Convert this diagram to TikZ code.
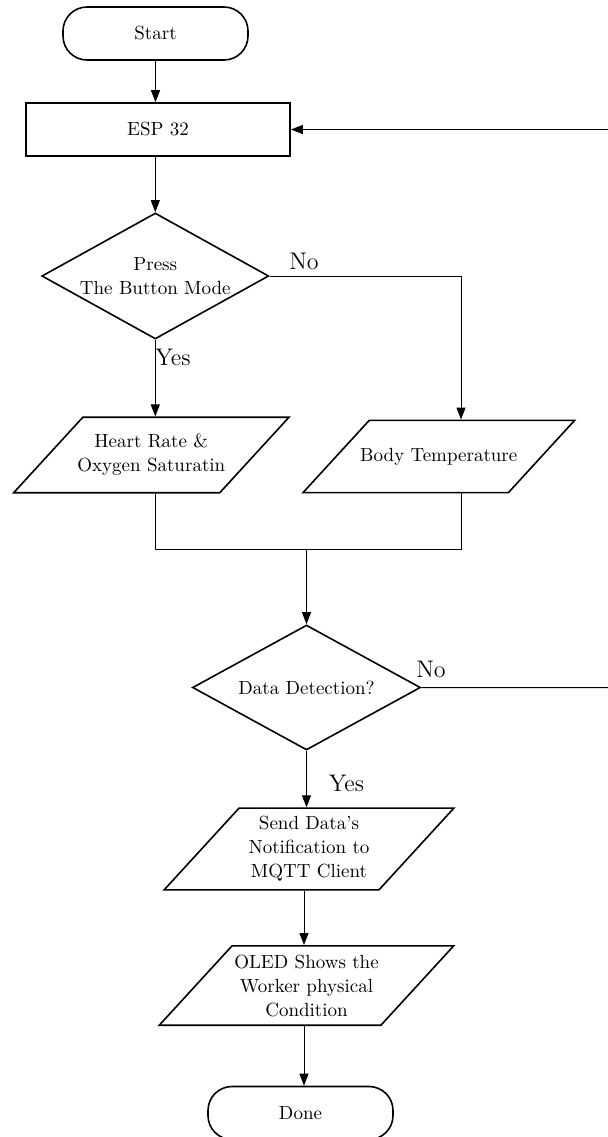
\documentclass[tikz,border=0pt]{standalone}
\usepackage{tikz}
\usetikzlibrary{shapes.geometric,arrows.meta}

\begin{document}
\begin{tikzpicture}[x=0.5pt,y=-0.5pt,
  every node/.style={font=\fontsize{9.5}{12}\selectfont},
  term/.style={draw,line width=0.8pt,rounded corners=12pt,minimum width=92.5pt,minimum height=26.5pt,inner sep=0pt},
  proc/.style={draw,line width=0.8pt,minimum width=132pt,minimum height=26.5pt,inner sep=0pt},
  decision/.style={draw,diamond,line width=0.8pt,aspect=1.8,inner sep=0pt,align=center},
  io/.style={draw,trapezium,trapezium left angle=47.5,trapezium right angle=132.5,line width=0.8pt,inner xsep=0pt,minimum height=0pt,align=center},
  flow/.style={line width=0.5pt,-{Triangle[length=6pt,width=4.5pt]}},
  link/.style={line width=0.5pt},
  answer/.style={font=\large,inner sep=0pt}]
\useasboundingbox (0,0) rectangle (608,1137);

% blocks
\node[term] (start) at (155.5,33.5) {Start};
\node[proc] (esp) at (158,129.5) {ESP 32};
\node[decision,minimum width=113.5pt,minimum height=63pt] (press) at (155.3,276) {Press\\The Button Mode};
\node[io,inner ysep=8.5pt,inner xsep=-2.75pt,minimum width=137.7pt] (heart) at (151.3,455) {Heart Rate \&\\Oxygen Saturatin};
\node[io,inner ysep=13.8pt,inner xsep=-4.5pt,minimum width=135pt] (body) at (438.8,456.5) {Body Temperature};
\node[decision,minimum width=114pt,minimum height=62.5pt] (detect) at (306.5,687.5) {Data Detection?};
\node[io,inner ysep=1.4pt,minimum width=145pt] (send) at (309,849) {Send Data's\\Notification to\\MQTT Client};
\node[io,inner ysep=3.8pt,minimum width=147.5pt] (oled) at (306.5,985.5) {OLED Shows the\\Worker physical\\Condition};
\node[term] (done) at (300.5,1113) {Done};

% branch labels
\node[answer] (no1) at (304,261) {No};
\node[answer] (yes1) at (173,357) {Yes};
\node[answer] (no2) at (431,669.5) {No};
\node[answer] (yes2) at (346.5,783.5) {Yes};

\coordinate (turn) at (461,276); % right branch
\coordinate (join) at (306.5,549); % merge point
\coordinate (drop) at (304,0); % lower arrows
\coordinate (backTop) at (608,129.5);
\coordinate (backEnd) at (608,687.7);

% connectors
\draw[flow] (start.south) -- (start.south |- esp.north);
\draw[flow] (press.north |- esp.south) -- (press.north);
\draw[flow] (press.south) -- (press.south |- heart.north);
\draw[flow] (press.east) -| (turn |- body.north);
\draw[link] (press.south |- heart.south) |- (turn |- join) -- (turn |- body.south);
\draw[flow] (join) -- (detect.north);
\draw[link] (detect.east) -- (backEnd);
\draw[flow] (backTop) -- (esp.east);
\draw[flow] (detect.south) -- (detect.south |- send.north);
\draw[flow] (drop |- send.south) -- (drop |- oled.north);
\draw[flow] (drop |- oled.south) -- (drop |- done.north);
\end{tikzpicture}
\end{document}
